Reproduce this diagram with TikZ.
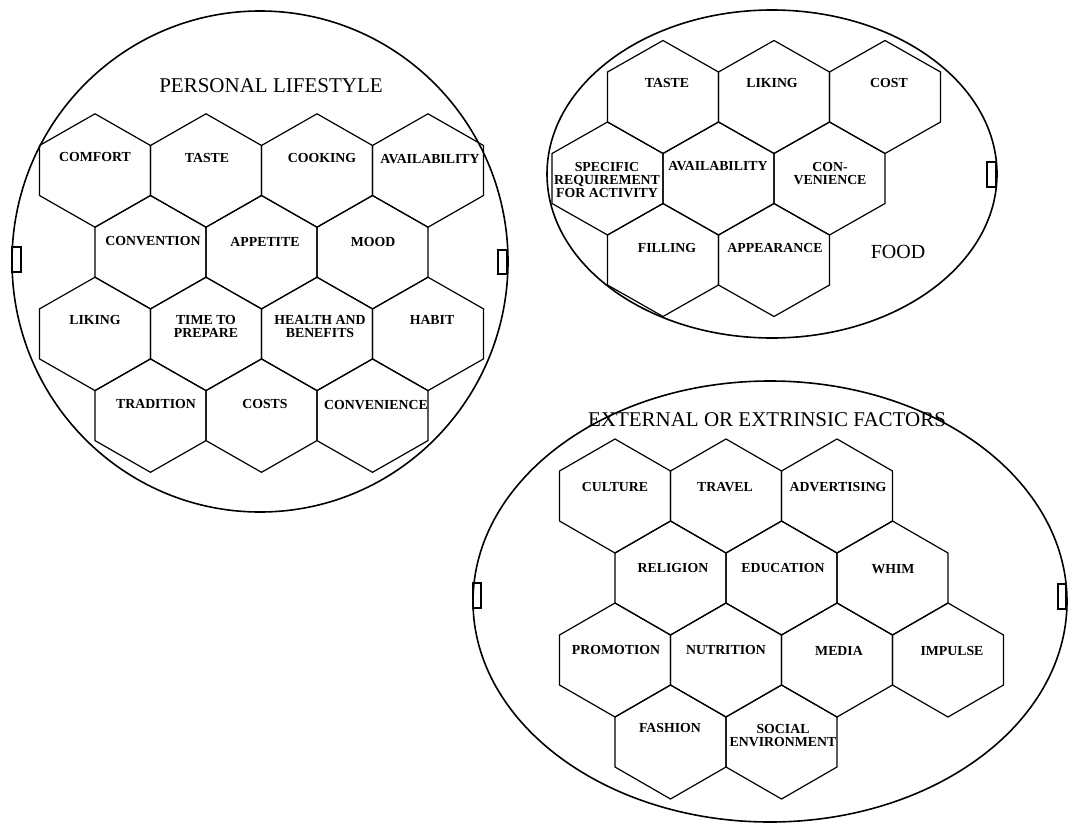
\documentclass[tikz,border=0pt]{standalone}
\usepackage{fontspec}
\setmainfont{Liberation Serif}
\tikzset{
  hexline/.style={draw=black, line width=1.2pt, line join=miter},
  ring/.style={draw=black, line width=1.6pt},
  tab/.style={draw=black, line width=1.2pt},
  lab/.style={inner sep=0pt, align=center, font=\bfseries\fontsize{13.8}{13}\selectfont},
  ttl/.style={inner sep=0pt, font=\fontsize{21}{24}\selectfont},
}
\newcommand{\hexA}{55.5}
\newcommand{\hexB}{25}
\newcommand{\hexS}{32}
\newcommand{\hexg}[2]{\draw[hexline] (#1-\hexA,#2-\hexB) -- (#1,#2-\hexB-\hexS) -- (#1+\hexA,#2-\hexB) -- (#1+\hexA,#2+\hexB) -- (#1,#2+\hexB+\hexS) -- (#1-\hexA,#2+\hexB) -- cycle;}
\begin{document}
\begin{tikzpicture}[x=1pt,y=-1pt]
\useasboundingbox (0,0) rectangle (1075,824);
% ---------------- PERSONAL LIFESTYLE ----------------
\draw[ring] (260,261.5) ellipse [x radius=248, y radius=250.5];
\draw[tab] (12,247) rectangle (21,272);
\draw[tab] (498,250) rectangle (507,274);
\renewcommand{\hexS}{31.7}
\foreach \cx in {95,206,317,428} {\hexg{\cx}{170.5}}
\foreach \cx in {150.5,261.5,372.5} {\hexg{\cx}{252.2}}
\foreach \cx in {95,206,317,428} {\hexg{\cx}{333.9}}
\foreach \cx in {150.5,261.5,372.5} {\hexg{\cx}{415.6}}
\node[ttl] (pl) at (271,86) {PERSONAL LIFESTYLE};
\node[lab] (comfort) at (95,157) {COMFORT};
\node[lab] (taste1) at (207,158) {TASTE};
\node[lab] (cooking) at (322,158) {COOKING};
\node[lab] (avail1) at (430,159) {AVAILABILITY};
\node[lab] (convention) at (153,241) {CONVENTION};
\node[lab] (appetite) at (265,242) {APPETITE};
\node[lab] (mood) at (373,242) {MOOD};
\node[lab] (liking1) at (95,320) {LIKING};
\node[lab] (time) at (206,326.5) {TIME TO\\PREPARE};
\node[lab] (health) at (320,326.5) {HEALTH AND\\BENEFITS};
\node[lab] (habit) at (432,320) {HABIT};
\node[lab] (tradition) at (156,404) {TRADITION};
\node[lab] (costs) at (265,404) {COSTS};
\node[lab] (conv1) at (376,405) {CONVENIENCE};
% ---------------- FOOD ----------------
\draw[ring] (772,174) ellipse [x radius=225, y radius=164];
\draw[tab] (987,162) rectangle (996,187);
\renewcommand{\hexS}{31.5}
\foreach \cx in {663,774,885} {\hexg{\cx}{97}}
\foreach \cx in {607.5,718.5,829.5} {\hexg{\cx}{178.5}}
\foreach \cx in {663,774} {\hexg{\cx}{260}}
\node[lab] (taste2) at (667,83) {TASTE};
\node[lab] (liking2) at (772,83) {LIKING};
\node[lab] (cost) at (889,83) {COST};
\node[lab] (specific) at (607,180) {SPECIFIC\\REQUIREMENT\\FOR ACTIVITY};
\node[lab] (avail2) at (718,166) {AVAILABILITY};
\node[lab] (conv2) at (830,173.5) {CON-\\VENIENCE};
\node[lab] (filling) at (667,248) {FILLING};
\node[lab] (appearance) at (775,248) {APPEARANCE};
\node[inner sep=0pt, font=\fontsize{20}{22}\selectfont] (food) at (898,252) {FOOD};
% ---------------- EXTERNAL OR EXTRINSIC FACTORS ----------------
\draw[ring] (770,601.5) ellipse [x radius=297, y radius=220.5];
\draw[tab] (473,583) rectangle (481,608);
\draw[tab] (1058,584) rectangle (1066,609);
\renewcommand{\hexS}{32}
\foreach \cx in {615,726,837} {\hexg{\cx}{496}}
\foreach \cx in {670.5,781.5,892.5} {\hexg{\cx}{578}}
\foreach \cx in {615,726,837,948} {\hexg{\cx}{660}}
\foreach \cx in {670.5,781.5} {\hexg{\cx}{742}}
\node[ttl] (ext) at (767,420) {EXTERNAL OR EXTRINSIC FACTORS};
\node[lab] (culture) at (615,487) {CULTURE};
\node[lab] (travel) at (725,487) {TRAVEL};
\node[lab] (advertising) at (838,487) {ADVERTISING};
\node[lab] (religion) at (673,568) {RELIGION};
\node[lab] (education) at (783,568) {EDUCATION};
\node[lab] (whim) at (893,569) {WHIM};
\node[lab] (promotion) at (616,650) {PROMOTION};
\node[lab] (nutrition) at (726,650) {NUTRITION};
\node[lab] (media) at (839,651) {MEDIA};
\node[lab] (impulse) at (952,651) {IMPULSE};
\node[lab] (fashion) at (670,728) {FASHION};
\node[lab] (social) at (783,735.5) {SOCIAL\\ENVIRONMENT};
\end{tikzpicture}
\end{document}
